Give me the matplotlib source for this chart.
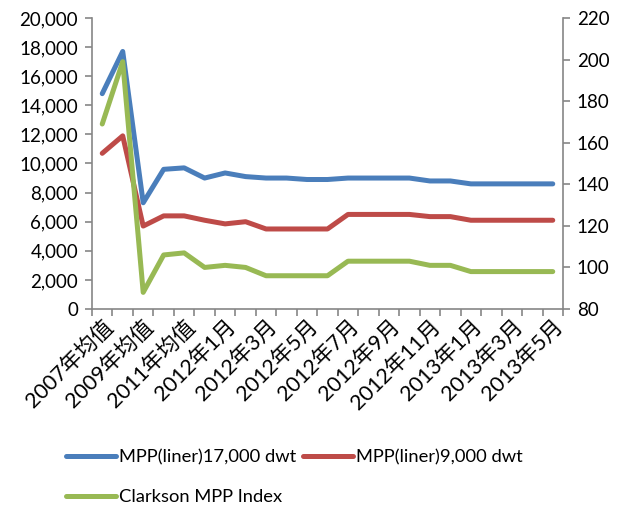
import matplotlib
matplotlib.use("Agg")
import matplotlib.pyplot as plt
from matplotlib.lines import Line2D
from matplotlib.ticker import FuncFormatter

plt.rcParams['font.family'] = ['Lato', 'Noto Sans CJK SC', 'DejaVu Sans']

# categories along the x axis
categories = ["2007年均值", "2008年均值", "2009年均值", "2010年均值", "2011年均值",
              "2011年12月",
              "2012年1月", "2012年2月", "2012年3月", "2012年4月", "2012年5月", "2012年6月",
              "2012年7月", "2012年8月", "2012年9月", "2012年10月", "2012年11月", "2012年12月",
              "2013年1月", "2013年2月", "2013年3月", "2013年4月", "2013年5月"]

# series values (left axis: USD/day, right axis: index)
mpp_17000 = [14800, 17700, 7300, 9600, 9700, 9000, 9350, 9100, 9000, 9000, 8900, 8900,
             9000, 9000, 9000, 9000, 8800, 8800, 8600, 8600, 8600, 8600, 8600]
mpp_9000 = [10700, 11900, 5700, 6400, 6400, 6100, 5850, 6000, 5500, 5500, 5500, 5500,
            6500, 6500, 6500, 6500, 6350, 6350, 6100, 6100, 6100, 6100, 6100]
clarkson_idx = [169, 199, 88, 106, 107, 100, 101, 100, 96, 96, 96, 96,
                103, 103, 103, 103, 101, 101, 98, 98, 98, 98, 98]

labels = ["MPP(liner)17,000 dwt", "MPP(liner)9,000 dwt", "Clarkson MPP Index"]
colors = ["#4A7EBB", "#BE4B48", "#98B954"]

fig = plt.figure(figsize=(6.27, 5.11), dpi=100)
ax = fig.add_axes([92 / 627, 1 - 309 / 511, (563 - 92) / 627, (309 - 18) / 511])
ax2 = ax.twinx()

x = list(range(len(categories)))
lw = 3.6
ax.plot(x, mpp_17000, color=colors[0], lw=lw, solid_capstyle='round', solid_joinstyle='round', zorder=3)
ax.plot(x, mpp_9000, color=colors[1], lw=lw, solid_capstyle='round', solid_joinstyle='round', zorder=3)
ax2.plot(x, clarkson_idx, color=colors[2], lw=lw, solid_capstyle='round', solid_joinstyle='round', zorder=3)

# axes limits and ticks
ax.set_xlim(-0.5, len(categories) - 0.5)
ax.set_ylim(0, 20000)
ax.set_yticks(range(0, 20001, 2000))
ax.yaxis.set_major_formatter(FuncFormatter(lambda v, p: f"{int(v):,}"))
ax2.set_ylim(80, 220)
ax2.set_yticks(range(80, 221, 20))

ax.set_xticks(x[::2])
ax.set_xticklabels(categories[::2], rotation=45, ha='right', rotation_mode='anchor')
ax.set_xticks([i - 0.5 for i in range(len(categories) + 1)], minor=True)

axis_color = "#868686"
for a in (ax, ax2):
    a.spines['top'].set_visible(False)
    for side in ('left', 'right', 'bottom'):
        a.spines[side].set_color(axis_color)
        a.spines[side].set_linewidth(1.2)
    a.tick_params(axis='y', colors=axis_color, labelcolor='black', length=5, width=1.2,
                  labelsize=13.5, pad=5)

ax.tick_params(axis='x', which='major', length=0, labelsize=15.5, pad=5)
ax.tick_params(axis='x', which='minor', length=5, width=1.2, colors=axis_color)
ax.spines['right'].set_visible(False)
ax2.spines['left'].set_visible(False)
ax2.spines['bottom'].set_visible(False)

# legend below the chart (filled column-wise, so order gives blue/red on row 1)
handles = [Line2D([], [], color=c, lw=lw, solid_capstyle='round') for c in colors]
order = [0, 2, 1]
fig.legend([handles[i] for i in order], [labels[i] for i in order],
           loc='upper left', bbox_to_anchor=(0.094, 0.135), ncol=2,
           frameon=False, fontsize=13.2, handlelength=2.7, handletextpad=0.2,
           columnspacing=0.35, labelspacing=1.3, borderaxespad=0)

fig.savefig("out.png", dpi=100)
